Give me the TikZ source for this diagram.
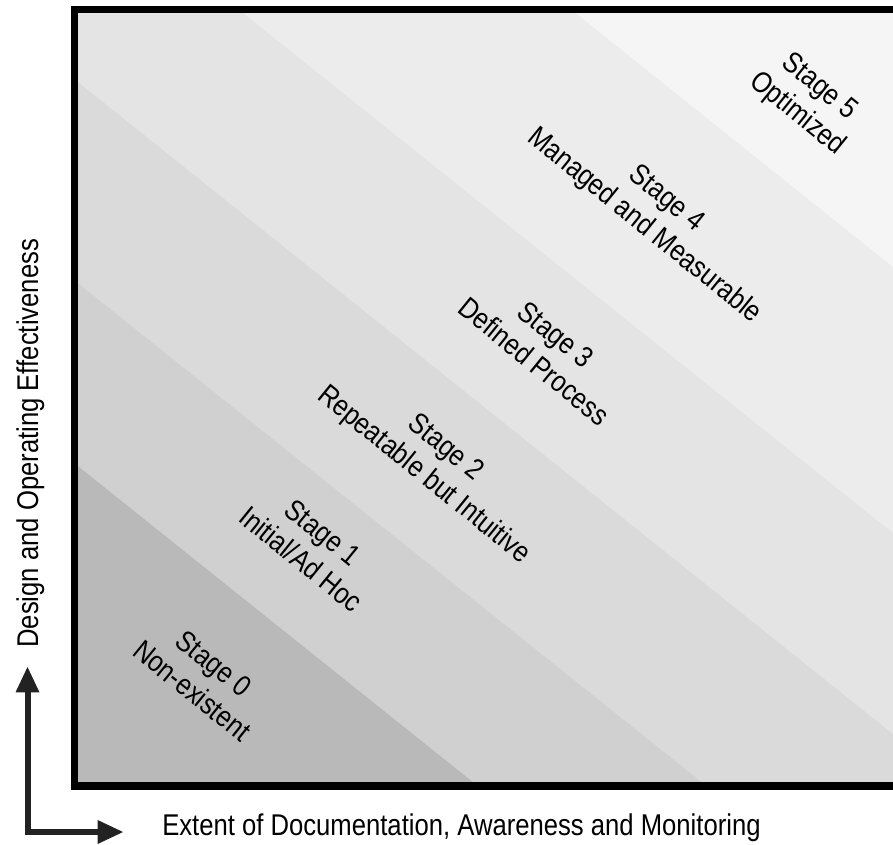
\documentclass[tikz,border=0pt]{standalone}
\usepackage{fontspec}
\setmainfont{Liberation Sans}[FakeStretch=0.855]
\usepackage{tikz}
\usetikzlibrary{arrows.meta}

\begin{document}
\begin{tikzpicture}[x=0.75pt,y=0.75pt,yscale=-1,xscale=1,
  stagelbl/.style={rotate=-39, align=center, inner sep=0.75pt, font=\fontsize{22}{26}\selectfont},
  axislbl/.style={inner sep=0pt, font=\fontsize{22.5}{27}\selectfont}]
\useasboundingbox (0,0) rectangle (893,844);

%Shape: Polygon
\draw  [draw opacity=0][fill={rgb, 255:red, 245; green, 245; blue, 245 }  ,fill opacity=1 ] (571.1,9.5) -- (893,9.5) -- (893,267) -- cycle ;
%Shape: Polygon
\draw  [draw opacity=0][fill={rgb, 255:red, 236; green, 236; blue, 236 }  ,fill opacity=1 ] (238.6,9.5) -- (571.1,9.5) -- (893,267) -- (893,533) -- cycle ;
%Shape: Polygon
\draw  [draw opacity=0][fill={rgb, 255:red, 228; green, 228; blue, 228 }  ,fill opacity=1 ] (74.5,9.5) -- (238.6,9.5) -- (893,533) -- (893,734) -- (74.5,79.2) -- cycle ;
%Shape: Polygon
\draw  [draw opacity=0][fill={rgb, 255:red, 218; green, 218; blue, 218 }  ,fill opacity=1 ] (74.5,79.2) -- (893,734) -- (893,786) -- (706.75,786) -- (74.5,280.2) -- cycle ;
%Shape: Polygon
\draw  [draw opacity=0][fill={rgb, 255:red, 208; green, 208; blue, 208 }  ,fill opacity=1 ] (74.5,280.2) -- (706.75,786) -- (478,786) -- (74.5,463.2) -- cycle ;
%Shape: Polygon
\draw  [draw opacity=0][fill={rgb, 255:red, 185; green, 185; blue, 185 }  ,fill opacity=1 ] (74.5,463.2) -- (478,786) -- (74.5,786) -- cycle ;

%Straight Lines (frame)
\draw [line width=5.6pt]    (893,9.5) -- (74.5,9.5) -- (74.5,786) -- (893,786) ;

%Straight Lines (axes)
\coordinate (ytip) at (27.5,667) ;
\coordinate (corner) at (27.5,832) ;
\coordinate (xtip) at (123,832) ;
\draw [color={rgb, 255:red, 34; green, 34; blue, 34 }  ,line width=4.5pt ,{Triangle[length=19pt,width=18pt,line width=0pt]}-{Triangle[length=19pt,width=18pt,line width=0pt]}]    (ytip) -- (corner) -- (xtip) ;

% Text Node
\draw (203,677) node (st0) [stagelbl]  {Stage 0\\Non-existent};
% Text Node
\draw (312,546) node (st1) [stagelbl]  {Stage 1\\Initial/Ad Hoc};
% Text Node
\draw (434,462) node (st2) [stagelbl]  {Stage 2\\Repeatable but Intuitive};
% Text Node
\draw (545,348) node (st3) [stagelbl]  {Stage 3\\Defined Process};
% Text Node
\draw (655,213) node (st4) [stagelbl]  {Stage 4\\Managed and Measurable};
% Text Node
\draw (808,101) node (st5) [stagelbl]  {Stage 5\\Optimized};
% Text Node
\draw (162,835) node (xlbl) [axislbl, anchor=base west]  {Extent of Documentation, Awareness and Monitoring};
% Text Node
\draw (38,648) node (ylbl) [axislbl, anchor=base west, rotate=90]  {Design and Operating Effectiveness};

\end{tikzpicture}
\end{document}
